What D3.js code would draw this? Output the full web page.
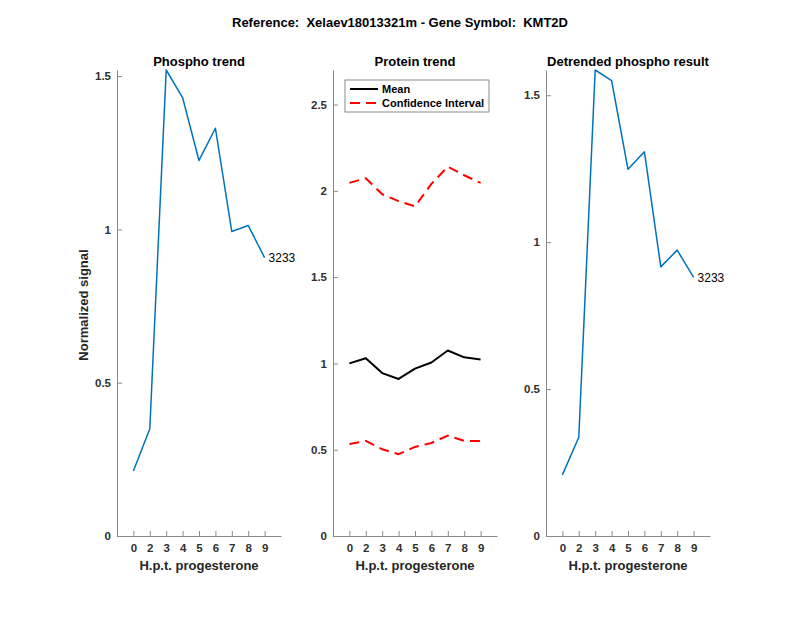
<!DOCTYPE html>
<html>
<head>
<meta charset="utf-8">
<script src="https://cdn.jsdelivr.net/npm/d3@7"></script>
<style>
  body { margin: 0; background: #fff; }
  text { font-family: "Liberation Sans", Arial, sans-serif; }
</style>
</head>
<body>
<div id="chart"></div>
<script>
// time points (h.p.t. progesterone)
const hours = ["0", "2", "3", "4", "5", "6", "7", "8", "9"];
// phospho trend
const phospho = [0.212, 0.35, 1.52, 1.43, 1.225, 1.33, 0.993, 1.013, 0.908];
// protein trend
const proteinMean = [1.0, 1.03, 0.944, 0.91, 0.97, 1.005, 1.075, 1.035, 1.023];
const ciUpper = [2.046, 2.073, 1.98, 1.94, 1.91, 2.04, 2.14, 2.09, 2.046];
const ciLower = [0.533, 0.551, 0.503, 0.474, 0.516, 0.539, 0.582, 0.551, 0.551];
// detrended phospho
const detrended = [0.208, 0.336, 1.586, 1.55, 1.248, 1.308, 0.916, 0.973, 0.88];
const peptideId = "3233";

const phosphoTicks = [0, 0.5, 1, 1.5];
const proteinTicks = [0, 0.5, 1, 1.5, 2, 2.5];
const detrendTicks = [0, 0.5, 1, 1.5];

const width = 800, height = 618;
const plotTop = 70, plotBottom = 536, plotW = 164;

const svg = d3.select("#chart").append("svg")
  .attr("width", width).attr("height", height);

svg.append("text")
  .attr("x", 400).attr("y", 27)
  .attr("text-anchor", "middle")
  .style("font-size", "13px").style("font-weight", "bold")
  .style("white-space", "pre").attr("fill", "#000")
  .text("Reference:  Xelaev18013321m - Gene Symbol:  KMT2D");

function panel(left, yMax, yTicks, title) {
  const g = svg.append("g").attr("transform", `translate(${left},0)`);
  const x = d3.scalePoint().domain(hours).range([0, plotW]).padding(1);
  const y = d3.scaleLinear().domain([0, yMax]).range([plotBottom, plotTop]);

  const xAxis = g.append("g")
    .attr("transform", `translate(0,${plotBottom})`)
    .call(d3.axisBottom(x).tickSizeInner(-5).tickSizeOuter(0).tickPadding(8));
  const yAxis = g.append("g")
    .call(d3.axisLeft(y).tickValues(yTicks).tickSizeInner(-5).tickSizeOuter(0)
      .tickPadding(6).tickFormat(d3.format("")));

  [xAxis, yAxis].forEach(a => {
    a.select(".domain").attr("stroke", "#8a8a8a");
    a.selectAll(".tick line").attr("stroke", "#8a8a8a");
    a.selectAll(".tick text")
      .attr("fill", "#303030")
      .style("font-size", "11.5px").style("font-weight", "bold")
      .style("font-family", "'Liberation Sans', Arial, sans-serif");
  });

  g.append("text")
    .attr("x", plotW / 2).attr("y", 66)
    .attr("text-anchor", "middle")
    .style("font-size", "13px").style("font-weight", "bold")
    .text(title);

  g.append("text")
    .attr("x", plotW / 2).attr("y", 570)
    .attr("text-anchor", "middle")
    .style("font-size", "13px").style("font-weight", "bold")
    .attr("fill", "#262626")
    .text("H.p.t. progesterone");

  return { g, x, y };
}

function drawLine(p, values, color, w, dash) {
  const line = d3.line().x((d, i) => p.x(hours[i])).y(d => p.y(d));
  const path = p.g.append("path")
    .datum(values)
    .attr("d", line)
    .attr("fill", "none")
    .attr("stroke", color)
    .attr("stroke-width", w)
    .attr("stroke-linejoin", "round");
  if (dash) path.attr("stroke-dasharray", dash);
}

function endLabel(p, values) {
  const last = values.length - 1;
  p.g.append("text")
    .attr("x", p.x(hours[last]) + 4)
    .attr("y", p.y(values[last]))
    .attr("dy", "0.35em")
    .style("font-size", "12px")
    .attr("fill", "#000")
    .text(peptideId);
}

// left panel
const p1 = panel(117, d3.max(phospho), phosphoTicks, "Phospho trend");
drawLine(p1, phospho, "#0072BD", 1.5);
endLabel(p1, phospho);
p1.g.append("text")
  .attr("transform", `translate(-29,${(plotTop + plotBottom) / 2 + 2}) rotate(-90)`)
  .attr("text-anchor", "middle")
  .style("font-size", "13px").style("font-weight", "bold")
  .attr("fill", "#262626")
  .text("Normalized signal");

// middle panel
const p2 = panel(333, 2.7, proteinTicks, "Protein trend");
drawLine(p2, ciUpper, "#FF0000", 2, "10,6");
drawLine(p2, ciLower, "#FF0000", 2, "10,6");
drawLine(p2, proteinMean, "#000", 2);

const legend = p2.g.append("g").attr("transform", "translate(12,80)");
legend.append("rect")
  .attr("width", 144).attr("height", 32)
  .attr("fill", "#fff").attr("stroke", "#8a8a8a");
const items = [
  { label: "Mean", color: "#000", dash: null },
  { label: "Confidence Interval", color: "#FF0000", dash: "10,6" }
];
items.forEach((it, i) => {
  const yy = 9 + i * 14;
  const l = legend.append("line")
    .attr("x1", 5).attr("x2", 33).attr("y1", yy).attr("y2", yy)
    .attr("stroke", it.color).attr("stroke-width", 2);
  if (it.dash) l.attr("stroke-dasharray", it.dash);
  legend.append("text")
    .attr("x", 37).attr("y", yy).attr("dy", "0.35em")
    .style("font-size", "11px").style("font-weight", "bold")
    .text(it.label);
});

// right panel
const p3 = panel(546, d3.max(detrended), detrendTicks, "Detrended phospho result");
drawLine(p3, detrended, "#0072BD", 1.5);
endLabel(p3, detrended);
</script>
</body>
</html>
